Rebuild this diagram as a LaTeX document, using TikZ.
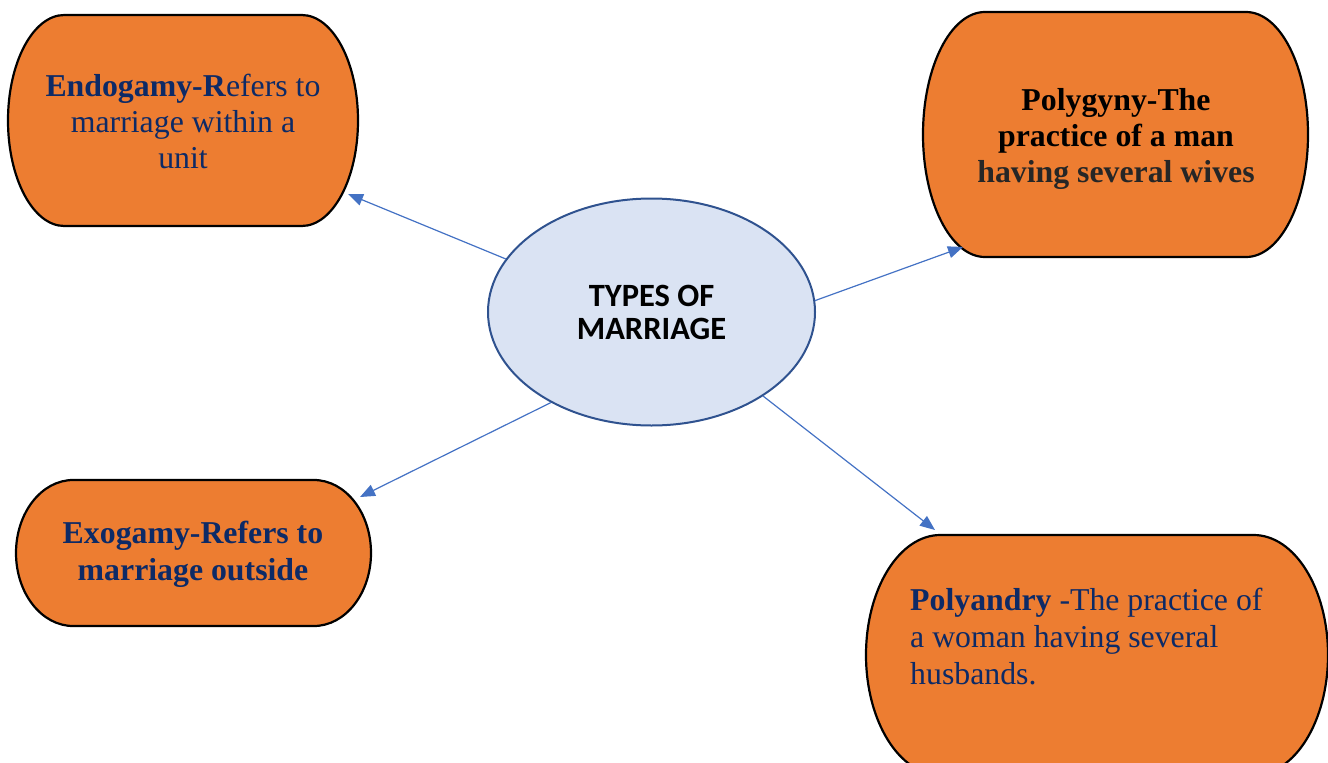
\documentclass[tikz,border=0pt]{standalone}
\usepackage{fontspec}
\setmainfont{Liberation Serif}
\newfontfamily\calib{Carlito}
\usetikzlibrary{shapes.geometric,arrows.meta}
\definecolor{boxorange}{HTML}{ED7D31}
\definecolor{ellfill}{HTML}{DAE3F3}
\definecolor{elldraw}{HTML}{2F528F}
\definecolor{arrowblue}{HTML}{4472C4}
\definecolor{tblue}{HTML}{0D2A66}
\definecolor{tgray}{HTML}{262626}
\tikzset{
  boxsty/.style={fill=boxorange,draw=black,line width=2.2pt},
  ellsty/.style={ellipse,fill=ellfill,draw=elldraw,line width=2pt,inner sep=0pt,minimum width=327pt,minimum height=227pt},
  txtsty/.style={anchor=base,inner sep=0pt},
  conn/.style={draw=arrowblue,line width=1.2pt,-{Triangle[length=15pt,width=12pt]}}
}
% terminator shape: cx, cy (page y, downward), w, h
\newcommand{\termbox}[4]{%
  \pgfmathsetmacro\trx{0.161*#3}%
  \pgfmathsetmacro\thh{#4/2}%
  \filldraw[boxsty] ({#1-#3/2+\trx},{-#2+#4/2}) -- ({#1+#3/2-\trx},{-#2+#4/2})
    arc[start angle=90,end angle=-90,x radius=\trx pt,y radius=\thh pt]
    -- ({#1-#3/2+\trx},{-#2-#4/2})
    arc[start angle=270,end angle=90,x radius=\trx pt,y radius=\thh pt] -- cycle;}
\begin{document}
\begin{tikzpicture}[x=1pt,y=1pt]
\path[use as bounding box] (0,0) rectangle (1328,-763);
\clip (0,0) rectangle (1328,-763);
% boxes
\termbox{183}{120.5}{350}{211}
\termbox{1115.5}{134.5}{385}{245}
\termbox{193.5}{553}{355}{146}
\termbox{1097}{655}{462}{240}
% texts
\node[txtsty,text=tblue] (endo) at (183,-96) {\parbox[t]{340pt}{\centering\fontsize{31.8}{36}\selectfont\textbf{Endogamy-R}efers to\\marriage within a\\unit}};
\node[txtsty,text=black] (polyg) at (1116,-110) {\parbox[t]{380pt}{\centering\fontsize{31.8}{36}\selectfont\bfseries Polygyny-The\\practice of a man\\\color{tgray}having several wives}};
\node[txtsty,text=tblue] (exo) at (193,-543) {\parbox[t]{350pt}{\centering\fontsize{31.8}{37}\selectfont\bfseries Exogamy-Refers to\\marriage outside}};
\node[txtsty,anchor=base west,text=tblue] (polya) at (910,-610) {\parbox[t]{410pt}{\raggedright\fontsize{31.8}{37}\selectfont\textbf{Polyandry} -The practice of\\a woman having several\\husbands.}};
% centre
\node[ellsty,align=center,font=\calib\bfseries\fontsize{32.5}{33}\selectfont] (c) at (651.5,-312) {TYPES OF\\MARRIAGE};
% arrow tips
\coordinate (tEndo) at (348,-194);
\coordinate (tPolyg) at (963,-247);
\coordinate (tExo) at (360,-497);
\coordinate (tPolya) at (935,-530);
\draw[conn] (c.160.9) -- (tEndo);
\draw[conn] (c.4) -- (tPolyg);
\draw[conn] (c.222.4) -- (tExo);
\draw[conn] (c.323.8) -- (tPolya);
\end{tikzpicture}
\end{document}
